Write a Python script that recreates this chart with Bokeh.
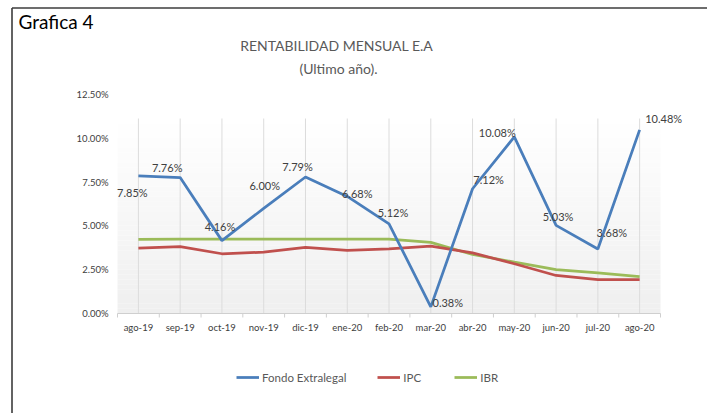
from bokeh.plotting import figure
from bokeh.models import (ColumnDataSource, Range1d, LabelSet, Label, Legend, LegendItem)
from bokeh.core.properties import value
from bokeh.embed import file_html
from bokeh.resources import INLINE

months = ["ago-19", "sep-19", "oct-19", "nov-19", "dic-19", "ene-20", "feb-20",
          "mar-20", "abr-20", "may-20", "jun-20", "jul-20", "ago-20"]
fondo = [7.85, 7.76, 4.16, 6.00, 7.79, 6.68, 5.12, 0.38, 7.12, 10.08, 5.03, 3.68, 10.48]
ipc = [3.73, 3.82, 3.41, 3.50, 3.78, 3.60, 3.69, 3.84, 3.46, 2.84, 2.17, 1.94, 1.94]
ibr = [4.23, 4.25, 4.24, 4.24, 4.24, 4.24, 4.24, 4.06, 3.37, 2.93, 2.51, 2.32, 2.11]
y_ticks = [0, 2.5, 5, 7.5, 10, 12.5]
y_tick_labels = ["0.00%", "2.50%", "5.00%", "7.50%", "10.00%", "12.50%"]
fondo_labels = ["7.85%", "7.76%", "4.16%", "6.00%", "7.79%", "6.68%", "5.12%",
                "0.38%", "7.12%", "10.08%", "5.03%", "3.68%", "10.48%"]

# label offsets (screen px) — styling only
label_dx = [-6, -13, -2, 1, -8, 10, 4, 17, 16, -17, 2, 14, 24]
label_dy = [-17, 10, 14, 23, 11, 3, 11, 4, 9, 4, 9, 17, 11]

FONT = "Lato"
BLUE, RED, GREEN = "#4a7ebb", "#c0504d", "#9bbb59"
W, H = 707, 413

# pixel layout of the plot area (page pixels)
X0, STEP = 137.9, 41.77      # centre of first category, category width
Y0, PPU = 313.0, 17.52       # pixel of 0 %, pixels per percentage point


def fx(px):
    return (px - X0) / STEP


def fy(py):
    return (Y0 - py) / PPU


p = figure(width=W, height=H, x_range=Range1d(fx(0), fx(W)), y_range=Range1d(fy(H), fy(0)),
           x_axis_type=None, y_axis_type=None, output_backend="svg", toolbar_location=None,
           min_border=0, min_border_left=0, min_border_right=0, min_border_top=0,
           min_border_bottom=0)
p.outline_line_color = None
p.background_fill_color = "white"
p.border_fill_color = "white"
p.xgrid.visible = False
p.ygrid.visible = False

n = len(months)
xs = list(range(n))
lo, hi = -0.5, n - 0.5

# gradient plot area background
top_y = fy(118)
nb = 40
cols = []
for i in range(nb):
    t = (i + 0.5) / nb
    c = int(round(239 + (255 - 239) * t))
    cols.append("#%02x%02x%02x" % (c, c, c))
p.quad(left=lo, right=hi, bottom=[top_y * i / nb for i in range(nb)],
       top=[top_y * (i + 1) / nb for i in range(nb)], fill_color=cols, line_color=None)

# vertical grid lines at category centres
p.segment(x0=xs, y0=0, x1=xs, y1=top_y, line_color="#dcdcdc", line_width=1)
# category axis line and boundary ticks
p.segment(x0=[lo], y0=[0], x1=[hi], y1=[0], line_color="#cfcfcf", line_width=1)
bnd = [i - 0.5 for i in range(n + 1)]
p.segment(x0=bnd, y0=0, x1=bnd, y1=-4 / PPU, line_color="#cfcfcf", line_width=1)

# axis tick labels
ysrc = ColumnDataSource(dict(x=[lo] * len(y_ticks), y=y_ticks, t=y_tick_labels))
p.add_layout(LabelSet(x="x", y="y", text="t", source=ysrc, x_offset=-9,
                      text_align="right", text_baseline="middle", text_font=value(FONT),
                      text_font_size=value("9.5px"), text_color="#404040"))
xsrc = ColumnDataSource(dict(x=xs, y=[0] * n, t=months))
p.add_layout(LabelSet(x="x", y="y", text="t", source=xsrc, y_offset=-14,
                      text_align="center", text_baseline="middle", text_font=value(FONT),
                      text_font_size=value("9.5px"), text_color="#404040"))

# series
r_ibr = p.line(xs, ibr, line_color=GREEN, line_width=2.75)
r_ipc = p.line(xs, ipc, line_color=RED, line_width=2.75)
r_fondo = p.line(xs, fondo, line_color=BLUE, line_width=2.75)

src = ColumnDataSource(dict(x=xs, y=fondo, t=fondo_labels, dx=label_dx, dy=label_dy))
p.add_layout(LabelSet(x="x", y="y", text="t", source=src, x_offset="dx", y_offset="dy",
                      text_align="center", text_baseline="middle", text_font=value(FONT),
                      text_font_size=value("11px"), text_color="#404040"))

# titles (screen units from bottom-left of the canvas)
p.add_layout(Label(x=338, y=H - 45, x_units="screen", y_units="screen",
                   text="RENTABILIDAD  MENSUAL E.A", text_align="center", text_baseline="middle",
                   text_font=FONT, text_font_size="14px", text_color="#595959"))
p.add_layout(Label(x=338, y=H - 68, x_units="screen", y_units="screen",
                   text="(Ultimo año).", text_align="center", text_baseline="middle",
                   text_font=FONT, text_font_size="14px", text_color="#595959"))
p.add_layout(Label(x=18, y=H - 20.5, x_units="screen", y_units="screen",
                   text="Grafica 4", text_align="left", text_baseline="middle",
                   text_font=FONT, text_font_size="19px", text_color="#000000"))

# outer frame lines (top and left)
p.segment(x0=[fx(11.5), fx(11.5)], y0=[fy(7.5), fy(7.5)], x1=[fx(W), fx(11.5)],
          y1=[fy(7.5), fy(H)], line_color="#3c3c3c", line_width=1.6)

legend = Legend(items=[LegendItem(label="Fondo Extralegal", renderers=[r_fondo]),
                       LegendItem(label="IPC", renderers=[r_ipc]),
                       LegendItem(label="IBR", renderers=[r_ibr])],
                orientation="horizontal", location=(236, H - 384),
                glyph_width=23, glyph_height=14, label_height=14, label_standoff=3,
                spacing=31, padding=0, margin=0, border_line_color=None,
                background_fill_alpha=0, label_text_font=FONT,
                label_text_font_size="11.5px", label_text_color="#595959")
p.add_layout(legend)

open("out.html", "w").write(file_html(p, INLINE))
